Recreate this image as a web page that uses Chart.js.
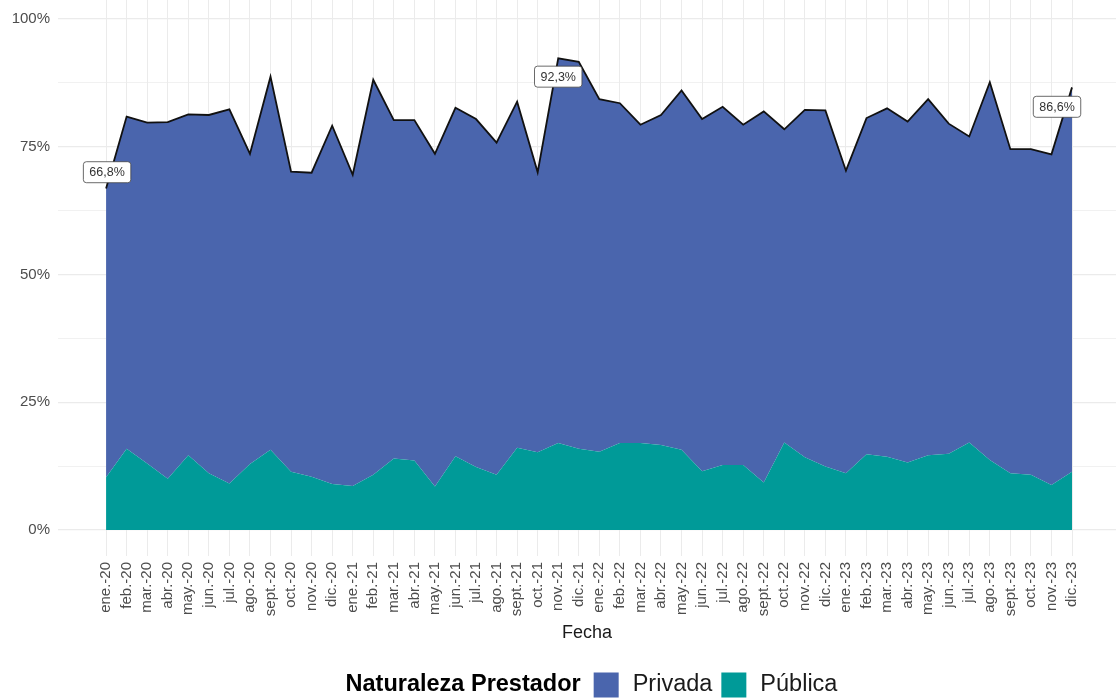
<!DOCTYPE html>
<html>
<head>
<meta charset="utf-8">
<script src="https://cdn.jsdelivr.net/npm/chart.js@4"></script>
<style>
  body { margin: 0; background: #fff; }
  #wrap { width: 1116px; height: 700px; }
</style>
</head>
<body>
<div id="wrap"><canvas id="chart" width="1116" height="700"></canvas></div>
<script>
const months = [
  'ene.-20', 'feb.-20', 'mar.-20', 'abr.-20', 'may.-20', 'jun.-20', 'jul.-20', 'ago.-20', 'sept.-20', 'oct.-20', 'nov.-20', 'dic.-20',
  'ene.-21', 'feb.-21', 'mar.-21', 'abr.-21', 'may.-21', 'jun.-21', 'jul.-21', 'ago.-21', 'sept.-21', 'oct.-21', 'nov.-21', 'dic.-21',
  'ene.-22', 'feb.-22', 'mar.-22', 'abr.-22', 'may.-22', 'jun.-22', 'jul.-22', 'ago.-22', 'sept.-22', 'oct.-22', 'nov.-22', 'dic.-22',
  'ene.-23', 'feb.-23', 'mar.-23', 'abr.-23', 'may.-23', 'jun.-23', 'jul.-23', 'ago.-23', 'sept.-23', 'oct.-23', 'nov.-23', 'dic.-23',
]

// share (%) of each provider type, Pública stacked at the bottom
const publica = [
  10.3, 15.9, 13.0, 10.0, 14.6, 11.1, 9.1, 12.9, 15.7, 11.4, 10.4, 9.0,
  8.6, 10.8, 14.0, 13.6, 8.5, 14.4, 12.3, 10.8, 16.1, 15.2, 17.0, 15.9,
  15.3, 17.0, 17.0, 16.6, 15.7, 11.5, 12.7, 12.7, 9.3, 17.1, 14.2, 12.4,
  11.1, 14.8, 14.3, 13.2, 14.6, 14.9, 17.1, 13.7, 11.1, 10.8, 8.8, 11.4,
]
const privada = [
  56.5, 65.0, 66.7, 69.8, 66.7, 70.1, 73.2, 60.7, 73.0, 58.7, 59.5, 70.1,
  60.9, 77.3, 66.2, 66.6, 65.1, 68.2, 68.1, 65.0, 67.7, 54.8, 75.3, 75.7,
  69.0, 66.5, 62.3, 64.6, 70.3, 68.9, 70.1, 66.6, 72.6, 61.3, 68.0, 69.7,
  59.2, 65.8, 68.2, 66.7, 69.7, 64.6, 59.9, 73.9, 63.4, 63.7, 64.7, 75.2,
]

const yTicks = [0, 12.5, 25, 37.5, 50, 62.5, 75, 87.5, 100]

// labelled totals
const callouts = [
  {i: 0, text: '66,8%'},
  {i: 22, text: '92,3%'},
  {i: 47, text: '86,6%'},
]

const FONT = '"Liberation Sans", Arial, sans-serif'
const BLUE = '#4A65AD'
const TEAL = '#009A98'

const calloutPlugin = {
    id: 'callouts',
    afterDatasetsDraw(chart) {
        let {ctx, scales: {x, y}} = chart
        let shift = [{dx: 1, dy: 3.2}, {dx: 0, dy: -3.6}, {dx: -15, dy: -3.8}]
        ctx.save()
        ctx.font = '12.5px ' + FONT
        ctx.textAlign = 'center'
        ctx.textBaseline = 'middle'
        callouts.forEach((c, k) => {
            let total = publica[c.i] + privada[c.i]
            let cx = x.getPixelForValue(c.i) + shift[k].dx
            let cy = y.getPixelForValue(total + shift[k].dy)
            let w = ctx.measureText(c.text).width + 12
            let h = 21
            ctx.beginPath()
            ctx.roundRect(cx - w / 2, cy - h / 2, w, h, 3)
            ctx.fillStyle = '#fff'
            ctx.fill()
            ctx.strokeStyle = '#444'
            ctx.lineWidth = 0.8
            ctx.stroke()
            ctx.fillStyle = '#333'
            ctx.fillText(c.text, cx, cy + 0.5)
        })
        ctx.restore()
    },
}

const legendPlugin = {
    id: 'bottomLegend',
    afterDraw(chart) {
        let {ctx} = chart
        let items = [
            {label: 'Privada', color: BLUE},
            {label: 'Pública', color: TEAL},
        ]
        ctx.save()
        ctx.textBaseline = 'middle'
        ctx.textAlign = 'left'
        ctx.font = 'bold 23.5px ' + FONT
        let title = 'Naturaleza Prestador'
        let tw = ctx.measureText(title).width
        ctx.font = '23.5px ' + FONT
        let total = tw
        items.forEach((it) => {
            it.w = ctx.measureText(it.label).width
            total += 13 + 25 + 14 + it.w
        })
        total -= 9
        let xx = 589 - total / 2
        let yy = 685
        ctx.font = 'bold 23.5px ' + FONT
        ctx.fillStyle = '#000'
        ctx.fillText(title, xx, yy)
        xx += tw + 13
        ctx.font = '23.5px ' + FONT
        items.forEach((it) => {
            ctx.fillStyle = it.color
            ctx.fillRect(xx, yy - 12.5, 25, 25)
            xx += 25 + 14
            ctx.fillStyle = '#1a1a1a'
            ctx.fillText(it.label, xx, yy)
            xx += it.w + 9
        })
        ctx.restore()
    },
}

new Chart(
    document.getElementById('chart'),
    {
        type: 'line',
        data: {
            datasets: [
                {
                    label: 'Pública',
                    data: publica.map((v, i) => ({x: i, y: v})),
                    backgroundColor: TEAL,
                    borderWidth: 0,
                    fill: 'origin',
                    pointRadius: 0,
                },
                {
                    label: 'Privada',
                    data: privada.map((v, i) => ({x: i, y: v})),
                    backgroundColor: BLUE,
                    borderColor: '#111',
                    borderWidth: 1.8,
                    fill: '-1',
                    pointRadius: 0,
                },
            ],
        },
        options: {
            responsive: false,
            animation: false,
            layout: {padding: {top: 0, right: 0, bottom: 0, left: 0}},
            plugins: {
                legend: {display: false},
                tooltip: {enabled: false},
            },
            scales: {
                x: {
                    type: 'linear',
                    min: -2.34,
                    max: 49.14,
                    afterBuildTicks: (scale) => {
                        scale.ticks = months.map((m, i) => ({value: i}))
                    },
                    afterFit: (scale) => {
                        scale.height = 144
                        scale.paddingLeft = 0
                        scale.paddingRight = 0
                    },
                    ticks: {
                        autoSkip: false,
                        minRotation: 90,
                        maxRotation: 90,
                        padding: 6,
                        color: '#4d4d4d',
                        font: {family: FONT, size: 15},
                        callback: (v) => months[v],
                    },
                    grid: {color: '#ebebeb', lineWidth: 1, drawTicks: false},
                    border: {display: false},
                    title: {
                        display: true,
                        text: 'Fecha',
                        color: '#1a1a1a',
                        font: {family: FONT, size: 18},
                        padding: {top: 0, bottom: 56},
                    },
                },
                y: {
                    stacked: true,
                    min: -5.1,
                    max: 103.7,
                    afterBuildTicks: (scale) => {
                        scale.ticks = yTicks.map((v) => ({value: v}))
                    },
                    afterFit: (scale) => {
                        scale.width = 58
                        scale.paddingTop = 0
                        scale.paddingBottom = 0
                    },
                    ticks: {
                        padding: 8,
                        color: '#4d4d4d',
                        font: {family: FONT, size: 15},
                        callback: (v) => (v % 25 === 0 ? v + '%' : ''),
                    },
                    grid: {
                        color: '#ebebeb',
                        lineWidth: (c) => (c.tick && c.tick.value % 25 === 0 ? 1.2 : 0.7),
                        drawTicks: false,
                    },
                    border: {display: false},
                },
            },
        },
        plugins: [calloutPlugin, legendPlugin],
    },
)
</script>
</body>
</html>
